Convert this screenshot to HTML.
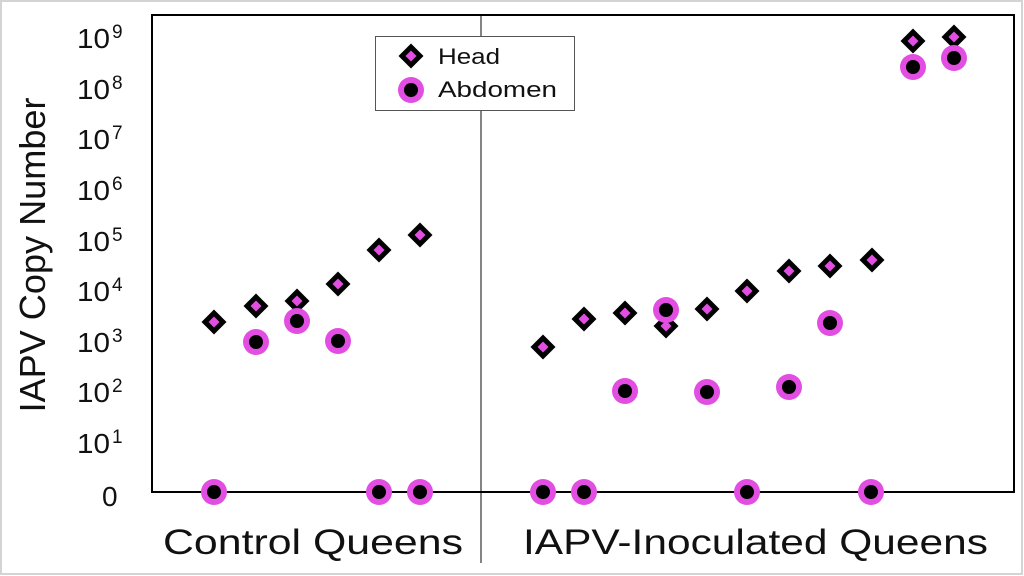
<!DOCTYPE html>
<html><head><meta charset="utf-8"><style>
html,body{margin:0;padding:0;background:#fff;}
svg{display:block;}
text{font-family:"Liberation Sans",sans-serif;fill:#111;}
</style></head><body>
<svg width="1024" height="576" viewBox="0 0 1024 576" xmlns="http://www.w3.org/2000/svg">
<defs>
<g id="dia"><polygon points="0,-12.5 12.5,0 0,12.5 -12.5,0" fill="#000"/><polygon points="0,-5.5 5.5,0 0,5.5 -5.5,0" fill="#e24de2"/></g>
<g id="cir"><circle r="13" fill="#e24de2"/><circle r="7" fill="#000"/></g>
</defs>
<rect x="0" y="0" width="1024" height="576" fill="#fff"/>
<rect x="1" y="1" width="1021" height="573" fill="none" stroke="#d4d4d4" stroke-width="2"/>
<!-- divider -->
<line x1="481" y1="15" x2="481" y2="563" stroke="#333" stroke-width="1.2"/>
<!-- plot box -->
<rect x="152" y="15" width="862" height="477" fill="none" stroke="#000" stroke-width="2"/>
<!-- y label -->
<text transform="translate(45,255) rotate(-90)" text-anchor="middle" font-size="36" textLength="315" lengthAdjust="spacingAndGlyphs">IAPV Copy Number</text>
<!-- tick labels -->
<g font-size="28">
<text x="102" y="506">0</text>
<text x="77" y="453" textLength="33" lengthAdjust="spacingAndGlyphs">10</text><text x="112" y="443" font-size="19">1</text>
<text x="77" y="402" textLength="33" lengthAdjust="spacingAndGlyphs">10</text><text x="112" y="392" font-size="19">2</text>
<text x="77" y="352" textLength="33" lengthAdjust="spacingAndGlyphs">10</text><text x="112" y="342" font-size="19">3</text>
<text x="77" y="301" textLength="33" lengthAdjust="spacingAndGlyphs">10</text><text x="112" y="291" font-size="19">4</text>
<text x="77" y="251" textLength="33" lengthAdjust="spacingAndGlyphs">10</text><text x="112" y="241" font-size="19">5</text>
<text x="77" y="200" textLength="33" lengthAdjust="spacingAndGlyphs">10</text><text x="112" y="190" font-size="19">6</text>
<text x="77" y="149" textLength="33" lengthAdjust="spacingAndGlyphs">10</text><text x="112" y="139" font-size="19">7</text>
<text x="77" y="99" textLength="33" lengthAdjust="spacingAndGlyphs">10</text><text x="112" y="89" font-size="19">8</text>
<text x="77" y="48" textLength="33" lengthAdjust="spacingAndGlyphs">10</text><text x="112" y="38" font-size="19">9</text>
</g>
<!-- category labels -->
<text x="163" y="554" font-size="35" textLength="300" lengthAdjust="spacingAndGlyphs">Control Queens</text>
<text x="523" y="554" font-size="35" textLength="465" lengthAdjust="spacingAndGlyphs">IAPV-Inoculated Queens</text>
<!-- head diamonds -->
<use href="#dia" x="214" y="322"/>
<use href="#dia" x="256" y="306"/>
<use href="#dia" x="297" y="301"/>
<use href="#dia" x="338" y="284"/>
<use href="#dia" x="379" y="250"/>
<use href="#dia" x="420" y="235"/>
<use href="#dia" x="543" y="347"/>
<use href="#dia" x="584" y="319"/>
<use href="#dia" x="625" y="313"/>
<use href="#dia" x="666" y="326"/>
<use href="#dia" x="707" y="309"/>
<use href="#dia" x="747" y="291"/>
<use href="#dia" x="789" y="271"/>
<use href="#dia" x="830" y="266"/>
<use href="#dia" x="872" y="260"/>
<use href="#dia" x="913" y="41"/>
<use href="#dia" x="954" y="37"/>
<!-- abdomen circles -->
<use href="#cir" x="214" y="492"/>
<use href="#cir" x="256" y="342"/>
<use href="#cir" x="297" y="321"/>
<use href="#cir" x="338" y="341"/>
<use href="#cir" x="379" y="492"/>
<use href="#cir" x="420" y="492"/>
<use href="#cir" x="543" y="492"/>
<use href="#cir" x="584" y="492"/>
<use href="#cir" x="625" y="391"/>
<use href="#cir" x="666" y="310"/>
<use href="#cir" x="707" y="392"/>
<use href="#cir" x="747" y="492"/>
<use href="#cir" x="789" y="387"/>
<use href="#cir" x="830" y="323"/>
<use href="#cir" x="871" y="492"/>
<use href="#cir" x="913" y="67"/>
<use href="#cir" x="954" y="58"/>
<!-- legend -->
<rect x="375.5" y="36.5" width="199" height="74" fill="#fff" stroke="#555" stroke-width="1"/>
<use href="#dia" x="411" y="56"/>
<use href="#cir" x="411" y="90"/>
<text x="438" y="64" font-size="22" textLength="62" lengthAdjust="spacingAndGlyphs">Head</text>
<text x="438" y="97" font-size="22" textLength="119" lengthAdjust="spacingAndGlyphs">Abdomen</text>
</svg>
</body></html>
